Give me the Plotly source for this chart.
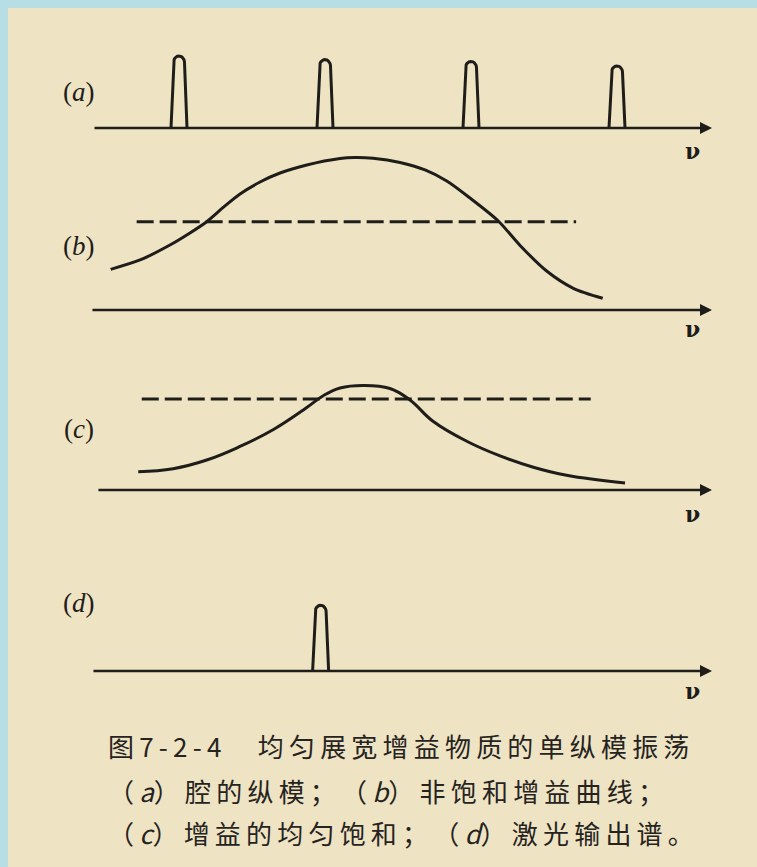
import numpy as np
import plotly.graph_objects as go

# ---------------------------------------------------------------------------
# Data (ν in units of the cavity mode spacing, gain in units of threshold)
# ---------------------------------------------------------------------------
# (a) cavity longitudinal modes
mode_nu = [1.0, 2.0, 3.0, 4.0]
mode_height = [0.80, 0.76, 0.74, 0.69]

# (b) unsaturated gain curve and loss threshold
gain_b_nu = [0.532, 0.733, 0.938, 1.075, 1.190, 1.315, 1.418, 1.555, 1.692,
             1.875, 2.103, 2.205, 2.329, 2.514, 2.685, 2.834, 2.993, 3.187,
             3.336, 3.518, 3.701, 3.902]
gain_b = [0.452, 0.556, 0.722, 0.856, 0.981, 1.156, 1.289, 1.422, 1.522,
          1.611, 1.683, 1.694, 1.686, 1.639, 1.556, 1.433, 1.244, 0.989,
          0.717, 0.433, 0.241, 0.130]
threshold_b = 0.98
threshold_b_nu = [0.71, 3.72]

# (c) homogeneously saturated gain curve and threshold
gain_c_nu = [0.721, 0.960, 1.190, 1.418, 1.647, 1.875, 1.988, 2.103, 2.262,
             2.445, 2.582, 2.742, 2.971, 3.199, 3.427, 3.655, 4.055]
gain_c = [0.204, 0.237, 0.333, 0.484, 0.672, 0.916, 1.048, 1.134, 1.162,
          1.128, 1.000, 0.761, 0.542, 0.379, 0.253, 0.163, 0.077]
threshold_c = 1.01
threshold_c_nu = [0.745, 3.82]

# (d) laser output spectrum: single longitudinal mode
laser_nu = [1.97]
laser_height = [0.73]

panel_labels = ["(<i>a</i>)", "(<i>b</i>)", "(<i>c</i>)", "(<i>d</i>)"]
axis_label = "ν"
fig_number = "图7-2-4"
caption_title = "均匀展宽增益物质的单纵模振荡"
caption_lines = [
    "（<i>a</i>）腔的纵模；（<i>b</i>）非饱和增益曲线；",
    "（<i>c</i>）增益的均匀饱和；（<i>d</i>）激光输出谱。",
]

# ---------------------------------------------------------------------------
# Layout geometry
# ---------------------------------------------------------------------------
W, H = 757, 867
PX_NU = 146.0            # pixels per unit of ν
NU_LEFT = -33.0 / PX_NU  # ν at the left edge of the page
PX_G = 90.0              # pixels per unit of gain / intensity

INK = "#1f1d1a"
PAPER = "#eee4c4"
FRAME = "#b6dee4"
LW = 3

# baseline, band top, band bottom (px from top), axis start ν, label y, ν-label shift
panels = [
    dict(base=128, top=20, bottom=150, start=0.411, label_y=92, nu_shift=-23),
    dict(base=310, top=140, bottom=330, start=0.397, label_y=246, nu_shift=-19),
    dict(base=490, top=350, bottom=510, start=0.438, label_y=429, nu_shift=-24),
    dict(base=671, top=560, bottom=700, start=0.404, label_y=603, nu_shift=-20),
]
AXIS_END = (712 - 33) / PX_NU
NU_LABEL_X = (692 - 33) / PX_NU


def mode_outline(centers, heights):
    """Narrow rounded pulses standing on the baseline, one per mode."""
    wb, wt = 8.0 / PX_NU, 5.5 / PX_NU
    rr = 6.5 / PX_G
    theta = np.linspace(np.pi, 0, 14)
    xs, ys = [], []
    for c, h in zip(centers, heights):
        xs += [c - wb] + list(c + wt * np.cos(theta)) + [c + wb, None]
        ys += [0.0] + list(h - rr + rr * np.sin(theta)) + [0.0, None]
    return xs, ys


fig = go.Figure()
yname = ["y", "y2", "y3", "y4"]

# (a) cavity modes
xa, ya = mode_outline(mode_nu, mode_height)
fig.add_trace(go.Scatter(x=xa, y=ya, yaxis="y", mode="lines",
                         line=dict(color=INK, width=LW)))

# (b) unsaturated gain and threshold
fig.add_trace(go.Scatter(x=gain_b_nu, y=gain_b, yaxis="y2", mode="lines",
                         line=dict(color=INK, width=LW, shape="spline", smoothing=0.8)))
fig.add_trace(go.Scatter(x=threshold_b_nu, y=[threshold_b] * 2, yaxis="y2", mode="lines",
                         line=dict(color=INK, width=LW, dash="17px,6px")))

# (c) saturated gain and threshold
fig.add_trace(go.Scatter(x=gain_c_nu, y=gain_c, yaxis="y3", mode="lines",
                         line=dict(color=INK, width=LW, shape="spline", smoothing=1.2)))
fig.add_trace(go.Scatter(x=threshold_c_nu, y=[threshold_c] * 2, yaxis="y3", mode="lines",
                         line=dict(color=INK, width=LW, dash="17px,6px")))

# (d) laser output
xd, yd = mode_outline(laser_nu, laser_height)
fig.add_trace(go.Scatter(x=xd, y=yd, yaxis="y4", mode="lines",
                         line=dict(color=INK, width=LW)))

annotations = []
layout_axes = {}
for i, p in enumerate(panels):
    key = "yaxis" if i == 0 else f"yaxis{i + 1}"
    layout_axes[key] = dict(
        domain=[1 - p["bottom"] / H, 1 - p["top"] / H],
        range=[(p["base"] - p["bottom"]) / PX_G, (p["base"] - p["top"]) / PX_G],
        anchor="x", visible=False, fixedrange=True,
    )
    # frequency axis with arrow
    annotations.append(dict(
        x=AXIS_END, y=0, ax=p["start"], ay=0,
        xref="x", yref=yname[i], axref="x", ayref=yname[i],
        text="", showarrow=True, arrowhead=2, arrowsize=1.0, arrowwidth=2.4,
        arrowcolor=INK, standoff=0, startstandoff=0,
    ))
    # ν label under the arrow
    annotations.append(dict(
        x=NU_LABEL_X, y=0, xref="x", yref=yname[i], text=f"<b>{axis_label}</b>",
        showarrow=False, yshift=p["nu_shift"], xanchor="center", yanchor="middle",
        font=dict(family="DejaVu Serif", size=22, color=INK),
    ))
    # panel letter
    annotations.append(dict(
        x=79 / W, y=1 - p["label_y"] / H, xref="paper", yref="paper",
        xanchor="center", yanchor="middle",
        text=panel_labels[i], showarrow=False,
        font=dict(family="Liberation Serif", size=27, color=INK),
    ))


TS = "\u2009"  # thin space used as extra tracking


def spaced(line):
    """Open up the tracking after ideographs and full-width punctuation."""
    out = []
    for ch in line:
        out.append(ch)
        code = ord(ch)
        if 0x4E00 <= code <= 0x9FFF:
            out.append(TS)
        elif 0x3000 <= code <= 0x303F or 0xFF00 <= code <= 0xFFEF:
            out.append(TS)
    return "".join(out)


number = fig_number[0] + TS + TS.join(fig_number[1:])
caption = [number + "\u3000" + TS * 2 + spaced(caption_title)] + \
          [spaced(s) for s in caption_lines]

for line, ypx in zip(caption, [745, 790, 832]):
    annotations.append(dict(
        x=106 / W, y=1 - ypx / H, xref="paper", yref="paper",
        xanchor="left", yanchor="middle", text=line, showarrow=False,
        font=dict(family="Noto Sans CJK SC", size=26, color="#26231f"),
    ))

# page frame
shapes = [
    dict(type="rect", xref="paper", yref="paper", x0=0, x1=8 / W, y0=0, y1=1,
         fillcolor=FRAME, line=dict(width=0), layer="below"),
    dict(type="rect", xref="paper", yref="paper", x0=0, x1=1, y0=1 - 8 / H, y1=1,
         fillcolor=FRAME, line=dict(width=0), layer="below"),
]

fig.update_layout(
    width=W, height=H, autosize=False,
    margin=dict(l=0, r=0, t=0, b=0, pad=0),
    paper_bgcolor=PAPER, plot_bgcolor="rgba(0,0,0,0)",
    showlegend=False,
    xaxis=dict(domain=[0, 1], range=[NU_LEFT, NU_LEFT + W / PX_NU],
               visible=False, fixedrange=True, anchor="y"),
    annotations=annotations, shapes=shapes,
    **layout_axes,
)

fig.write_html("out.html", config={"displayModeBar": False})
